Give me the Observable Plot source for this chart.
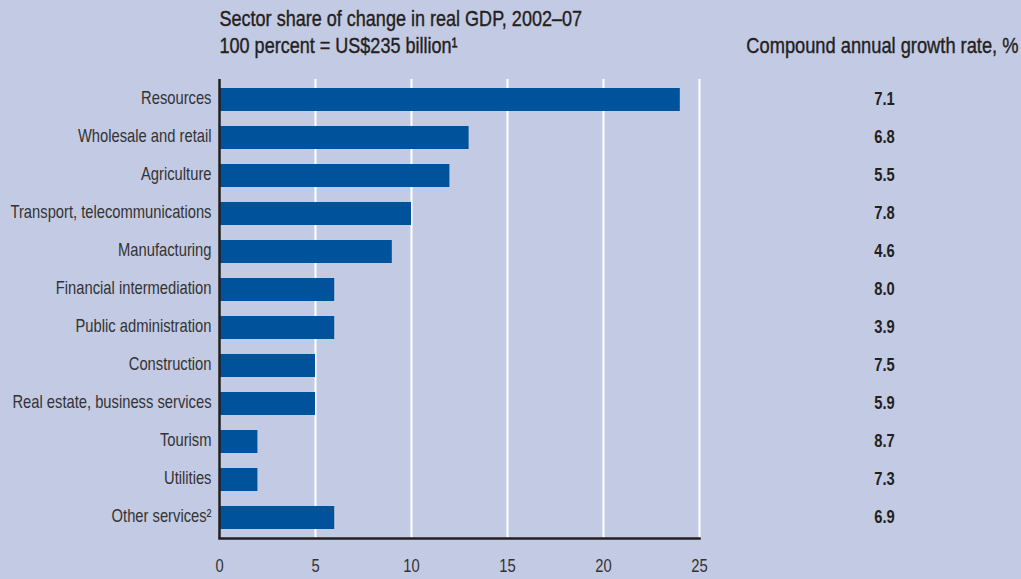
<!DOCTYPE html>
<html>
<head>
<meta charset="utf-8">
<script src="https://cdn.jsdelivr.net/npm/d3@7"></script>
<script src="https://cdn.jsdelivr.net/npm/@observablehq/plot@0.6"></script>
<style>
  html, body { margin: 0; padding: 0; background: #c3cae4; }
  #chart svg { display: block; }
</style>
</head>
<body>
<div id="chart"></div>
<script>
const sectors = [
  "Resources",
  "Wholesale and retail",
  "Agriculture",
  "Transport, telecommunications",
  "Manufacturing",
  "Financial intermediation",
  "Public administration",
  "Construction",
  "Real estate, business services",
  "Tourism",
  "Utilities",
  "Other services\u00B2"
];
const shares = [24, 13, 12, 10, 9, 6, 6, 5, 5, 2, 2, 6];
const growthRates = [7.1, 6.8, 5.5, 7.8, 4.6, 8.0, 3.9, 7.5, 5.9, 8.7, 7.3, 6.9];
const xTicks = [0, 5, 10, 15, 20, 25];
const gridTicks = [5, 10, 15, 20, 25];
const titleLine1 = "Sector share of change in real GDP, 2002\u201307";
const titleLine2 = "100 percent = US$235 billion\u00B9";
const rightHeader = "Compound annual growth rate, %";

const data = sectors.map((s, i) => ({sector: s, share: shares[i], growth: growthRates[i]}));

const font = "'Liberation Sans', Arial, sans-serif";
const ink = "#231f20";
const labelInk = "#333333";
const condense = 0.82; // horizontal squeeze to mimic a condensed face

const chart = Plot.plot({
  width: 1021,
  height: 579,
  marginLeft: 219,
  marginRight: 322,
  marginTop: 79,
  marginBottom: 41,
  style: {background: "#c3cae4", fontFamily: font, color: ink},
  x: {domain: [0, 25], ticks: xTicks},
  y: {domain: sectors, paddingInner: 0.4, paddingOuter: 0.2},
  marks: [
    Plot.ruleX(gridTicks, {stroke: "white", strokeWidth: 2}),
    Plot.barX(data, {y: "sector", x: "share", fill: "#00529b"}),
    Plot.ruleX([0], {stroke: ink, strokeWidth: 2.5}),
    Plot.frame({anchor: "bottom", stroke: ink, strokeWidth: 2.5}),
    Plot.axisX({ticks: xTicks, tickSize: 0, tickPadding: 21, fontSize: 18, fill: labelInk, label: null}),
    Plot.axisY({tickSize: 0, tickPadding: 8, fontSize: 18, fill: labelInk, label: null, dy: -1.5}),
    Plot.text(data, {y: "sector", text: d => d.growth.toFixed(1), frameAnchor: "right", dx: 185, dy: -1, textAnchor: "middle", fontSize: 18, fontWeight: "bold", fill: ink}),
    Plot.text([titleLine1], {frameAnchor: "top-left", dy: -61, textAnchor: "start", lineAnchor: "middle", fontSize: 22, fill: ink, stroke: ink, strokeWidth: 0.4}),
    Plot.text([titleLine2], {frameAnchor: "top-left", dy: -34, textAnchor: "start", lineAnchor: "middle", fontSize: 22, fill: ink, stroke: ink, strokeWidth: 0.4}),
    Plot.text([rightHeader], {frameAnchor: "top-right", dx: 319, dy: -34, textAnchor: "end", lineAnchor: "middle", fontSize: 22.3, fill: ink, stroke: ink, strokeWidth: 0.4})
  ]
});

// squeeze every text horizontally around its own anchor point
d3.select(chart).selectAll("text").each(function() {
  const x = +this.getAttribute("x") || 0;
  const t = this.getAttribute("transform");
  this.setAttribute("transform", (t ? t + " " : "") + `translate(${x},0) scale(${condense},1) translate(${-x},0)`);
});

document.getElementById("chart").append(chart);
</script>
</body>
</html>
